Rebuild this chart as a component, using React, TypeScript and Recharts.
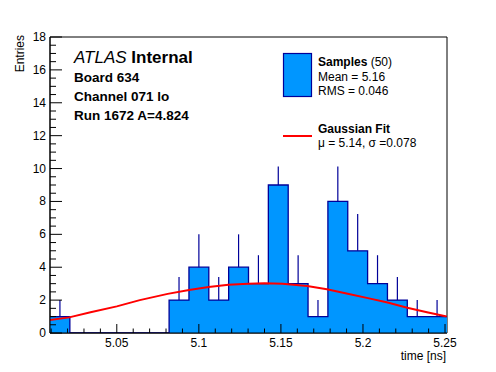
import { ComposedChart, Area, Line, XAxis, YAxis, ReferenceArea, ReferenceLine } from 'recharts'

// histogram range (time, ns) and bin contents
const xMin = 5.0093
const xMax = 5.2512
const counts = [1, 0, 0, 0, 0, 0, 2, 4, 2, 4, 3, 9, 3, 1, 8, 5, 3, 2, 1, 1]
// upper end of each error bar (null = empty bin, no bar)
const errTops = [2, null, null, null, null, null, 3.41, 6, 3.41, 6, 4.73, 12, 4.73, 2, 10.83, 7.24, 4.73, 3.41, 2, 2]

// gaussian fit curve
const fitTimes = [5.009, 5.021, 5.034, 5.05, 5.064, 5.081, 5.094, 5.106, 5.118, 5.13, 5.14, 5.151, 5.166, 5.178, 5.19, 5.203, 5.215, 5.227, 5.239, 5.251]
const fitValues = [0.78, 0.95, 1.26, 1.62, 2.0, 2.38, 2.62, 2.8, 2.93, 3.0, 3.02, 3.0, 2.86, 2.66, 2.4, 2.12, 1.85, 1.54, 1.26, 1.0]

const xLabels = ['5.05', '5.1', '5.15', '5.2', '5.25']
const yLabels = ['0', '2', '4', '6', '8', '10', '12', '14', '16', '18']

const FONT = '"Liberation Sans", Arial, Helvetica, sans-serif'
const FILL = '#0096ff'
const EDGE = '#000099'

const binWidth = (xMax - xMin) / counts.length
const histData = counts
  .map((c, i) => ({ t: xMin + i * binWidth, h: c }))
  .concat([{ t: xMax, h: counts[counts.length - 1] }])
const fitData = fitTimes.map((t, i) => ({ t, f: fitValues[i] }))

const xTicks: number[] = []
for (let i = 1; i <= 25; i++) xTicks.push(Math.round((5 + i / 100) * 1000) / 1000)
const yTicks: number[] = []
for (let i = 0; i <= 36; i++) yTicks.push(i / 2)

function XTick(props: any) {
  const { x, y, payload } = props
  const label = xLabels.find(l => Math.abs(parseFloat(l) - payload.value) < 1e-6)
  return (
    <g>
      <line x1={x} x2={x} y1={y} y2={y - (label ? 9 : 4.5)} stroke="#000" />
      {label && (
        <text x={x} y={y + 14} textAnchor="middle" fontSize={12} fontFamily={FONT} fill="#000">
          {label}
        </text>
      )}
    </g>
  )
}

function YTick(props: any) {
  const { x, y, payload } = props
  const label = yLabels.find(l => parseFloat(l) === payload.value)
  return (
    <g>
      <line x1={x} x2={x + (label ? 12 : 6)} y1={y} y2={y} stroke="#000" />
      {label && (
        <text x={x - 4} y={y + 4} textAnchor="end" fontSize={12} fontFamily={FONT} fill="#000">
          {label}
        </text>
      )}
    </g>
  )
}

export default function App() {
  return (
    <div style={{ position: 'absolute', left: 0, top: 0, width: 496, height: 372, background: '#fff' }}>
      <ComposedChart width={496} height={372} margin={{ top: 37, right: 49, bottom: 0, left: 0 }}>
        <XAxis
          dataKey="t"
          type="number"
          domain={[xMin, xMax]}
          ticks={xTicks}
          interval={0}
          height={39}
          tickSize={0}
          tickMargin={0}
          tickLine={false}
          tick={<XTick />}
          axisLine={{ stroke: '#000' }}
          allowDataOverflow
        />
        <YAxis
          type="number"
          domain={[0, 18]}
          ticks={yTicks}
          interval={0}
          width={50}
          tickSize={0}
          tickMargin={0}
          tickLine={false}
          tick={<YTick />}
          axisLine={{ stroke: '#000' }}
          allowDataOverflow
        />
        <ReferenceArea x1={xMin} x2={xMax} y1={0} y2={18} fill="none" stroke="#000" strokeWidth={1} />
        <Area
          data={histData}
          dataKey="h"
          type="stepAfter"
          fill={FILL}
          fillOpacity={1}
          stroke={EDGE}
          strokeWidth={1.3}
          isAnimationActive={false}
        />
        {counts.map((c, i) =>
          errTops[i] == null ? null : (
            <ReferenceLine
              key={i}
              segment={[
                { x: xMin + (i + 0.5) * binWidth, y: c },
                { x: xMin + (i + 0.5) * binWidth, y: errTops[i] as number },
              ]}
              stroke={EDGE}
              strokeWidth={1.2}
            />
          )
        )}
        <Line
          data={fitData}
          dataKey="f"
          type="linear"
          stroke="#ff0000"
          strokeWidth={2}
          dot={false}
          isAnimationActive={false}
        />
      </ComposedChart>
      <svg width={496} height={372} style={{ position: 'absolute', left: 0, top: 0, pointerEvents: 'none' }}>
        {/* legend pad, white fill hides what is under it */}
        <rect x={268} y={40} width={172} height={126.5} fill="#fff" />
        <rect x={283.5} y={53.5} width={28} height={43} fill={FILL} stroke={EDGE} strokeWidth={1.2} />
        <text x={318} y={66} fontSize={12} fontFamily={FONT}>
          <tspan fontWeight="bold">Samples</tspan>
          <tspan> (50)</tspan>
        </text>
        <text x={318} y={81} fontSize={12} fontFamily={FONT}>Mean = 5.16</text>
        <text x={318} y={95} fontSize={12} fontFamily={FONT}>RMS = 0.046</text>
        <line x1={283} x2={312} y1={136} y2={136} stroke="#ff0000" strokeWidth={2} />
        <text x={318} y={133} fontSize={12} fontFamily={FONT} fontWeight="bold">Gaussian Fit</text>
        <text x={318} y={147} fontSize={12} fontFamily={FONT}>μ = 5.14, σ =0.078</text>

        <text x={74} y={63} fontSize={17} fontFamily={FONT}>
          <tspan fontStyle="italic">ATLAS</tspan>
          <tspan fontWeight="bold"> Internal</tspan>
        </text>
        <text x={74} y={82} fontSize={13.5} fontFamily={FONT} fontWeight="bold">Board 634</text>
        <text x={74} y={101} fontSize={13.5} fontFamily={FONT} fontWeight="bold">Channel 071 lo</text>
        <text x={74} y={120} fontSize={13.5} fontFamily={FONT} fontWeight="bold">Run 1672 A=4.824</text>

        <text x={24} y={35} fontSize={12} fontFamily={FONT} textAnchor="end" transform="rotate(-90 24 35)">
          Entries
        </text>
        <text x={446} y={360} fontSize={12} fontFamily={FONT} textAnchor="end">time [ns]</text>
      </svg>
    </div>
  )
}
